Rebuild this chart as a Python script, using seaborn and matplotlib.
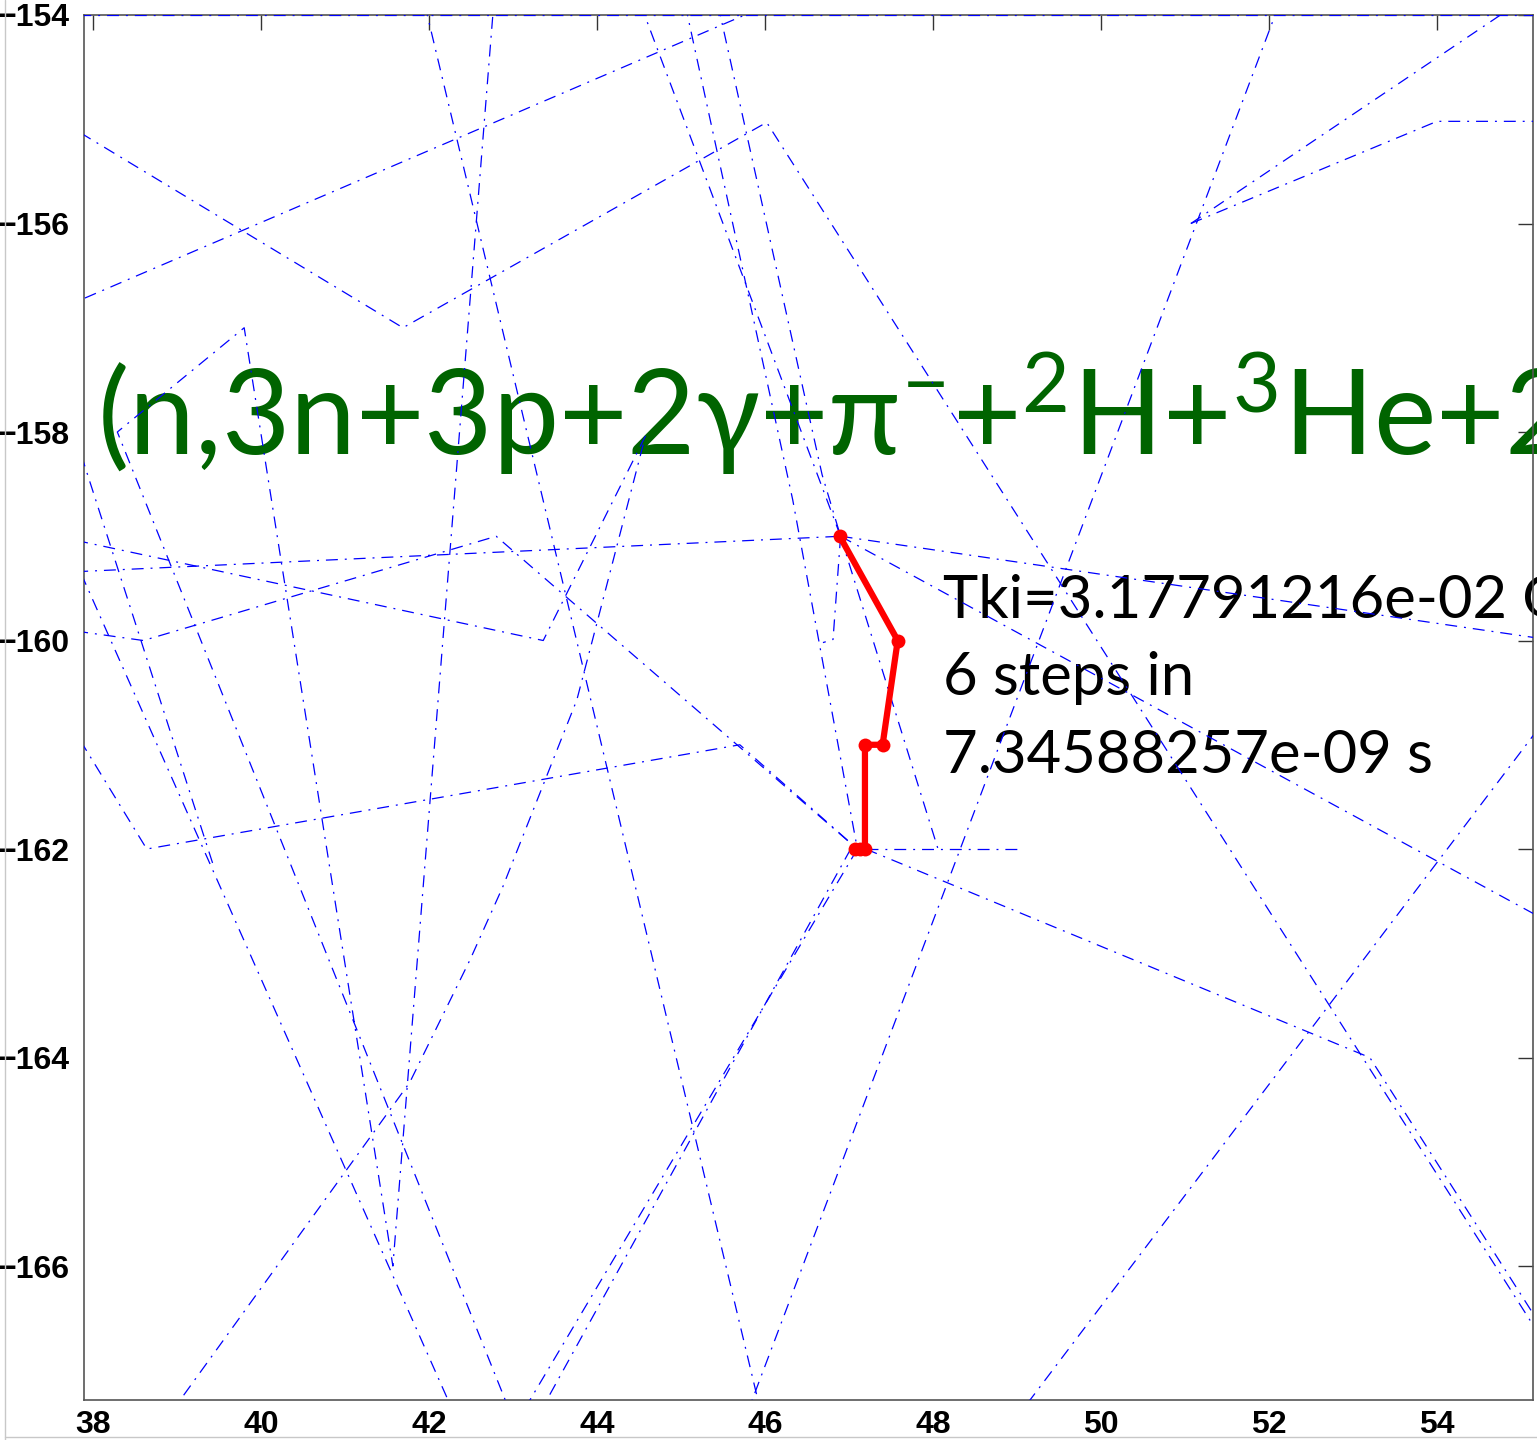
import matplotlib
matplotlib.use("Agg")
import matplotlib.pyplot as plt
from matplotlib.lines import Line2D
import pandas as pd
import seaborn as sns

# ---- particle tracks of the cascade (x, y vertices) ----
trk_edge = ([37.50, 55.60], [-154.00, -154.00])
trk_01 = ([37.60, 45.76], [-156.82, -154.00])
trk_02 = ([37.85, 41.69, 46.02, 55.40], [-155.13, -157.00, -155.03, -166.89])
trk_03 = ([41.95, 45.95], [-153.90, -167.40])
trk_04 = ([42.99, 38.29, 39.80, 41.57, 42.77], [-167.45, -158.00, -157.00, -166.00, -153.90])
trk_05 = ([37.86, 39.43], [-158.22, -162.15])
trk_06 = ([37.86, 42.29], [-159.36, -167.40])
trk_07 = ([37.80, 43.36, 44.60], [-159.04, -160.00, -158.00])
trk_08 = ([44.55, 44.00, 43.76, 42.88, 42.49, 41.77, 38.89],
          [-158.12, -159.83, -160.57, -162.36, -163.06, -164.24, -167.45])
trk_09 = ([37.80, 46.90], [-159.34, -159.00])
trk_10 = ([37.80, 38.60, 42.80, 47.10], [-159.91, -160.00, -159.00, -162.00])
trk_11 = ([37.85, 38.64, 45.70, 47.10], [-160.96, -162.00, -161.00, -162.00])
trk_12 = ([44.52, 46.90], [-153.90, -159.00])
trk_13 = ([45.44, 46.68, 46.90], [-153.90, -158.41, -159.00])
trk_14 = ([45.05, 46.33, 47.10], [-153.90, -158.65, -162.00])
trk_15 = ([46.90, 46.81, 46.69], [-159.00, -159.99, -160.02])
trk_16 = ([46.90, 48.06], [-159.00, -162.00])
trk_17 = ([47.20, 49.07], [-162.00, -162.00])
trk_18 = ([47.20, 53.20, 55.40], [-162.00, -164.00, -166.78])
trk_19 = ([47.10, 43.08], [-162.00, -167.45])
trk_20 = ([47.02, 43.29], [-162.00, -167.45])
trk_21 = ([52.12, 45.77], [-153.90, -167.45])
trk_22 = ([46.90, 55.40], [-159.00, -162.73])
trk_23 = ([55.40, 49.00], [-160.64, -167.45])
trk_24 = ([46.90, 55.40], [-159.00, -160.00])
trk_25 = ([51.07, 54.94], [-156.00, -153.90])
trk_26 = ([51.07, 54.00, 55.40], [-156.00, -155.02, -155.02])

# ---- primary neutron path (6 steps) ----
primary_x = [46.89, 47.58, 47.40, 47.19, 47.19, 47.13, 47.07]
primary_y = [-159.00, -160.00, -161.00, -161.00, -162.00, -162.00, -162.00]

# ---- axes ticks ----
x_ticks = [38, 40, 42, 44, 46, 48, 50, 52, 54]
y_ticks = [-154, -156, -158, -160, -162, -164, -166]

# ---- annotations ----
reaction_label = "(n,3n+3p+2γ+π$^{-}$+$^{2}$H+$^{3}$He+2"
info_lines = ["Tki=3.17791216e-02 G", "6 steps in", "7.34588257e-09 s"]

tracks = [trk_edge, trk_01, trk_02, trk_03, trk_04, trk_05, trk_06, trk_07,
          trk_08, trk_09, trk_10, trk_11, trk_12, trk_13, trk_14, trk_15,
          trk_16, trk_17, trk_18, trk_19, trk_20, trk_21, trk_22, trk_23,
          trk_24, trk_25, trk_26]

rows = []
for tid, (xs, ys) in enumerate(tracks):
    for k, (xv, yv) in enumerate(zip(xs, ys)):
        rows.append({"track": tid, "step": k, "x": xv, "y": yv})
track_df = pd.DataFrame(rows)

sns.set_style("white")
plt.rcParams["font.family"] = ["Liberation Sans", "DejaVu Sans"]
plt.rcParams["mathtext.fontset"] = "custom"
plt.rcParams["mathtext.rm"] = "Lato"
plt.rcParams["mathtext.it"] = "Lato:italic"
plt.rcParams["mathtext.bf"] = "Lato:bold"
plt.rcParams["lines.scale_dashes"] = False

fig = plt.figure(figsize=(15.37, 14.40), dpi=100)
ax = fig.add_axes([84 / 1537, 1 - 1400 / 1440, (1533 - 84) / 1537, (1400 - 15) / 1440])

sns.lineplot(data=track_df, x="x", y="y", units="track", estimator=None,
             sort=False, color="#0000ff", linewidth=0.9,
             linestyle=(0, (8.6, 5.0, 1.4, 5.0)), legend=False, ax=ax, zorder=3)

sns.lineplot(x=primary_x, y=primary_y, sort=False, estimator=None,
             color="#ff0000", linewidth=4.5, marker="o", markersize=10,
             markeredgewidth=0, ax=ax, zorder=5)

ax.text(38.05, -158.22, reaction_label, fontsize=85, color="#006400",
        family=["Lato", "DejaVu Sans"], ha="left", va="baseline",
        zorder=1, clip_on=False)

for line, yb in zip(info_lines, [-159.784, -160.523, -161.271]):
    ax.text(48.12, yb, line, fontsize=43, color="black",
            family=["Lato", "DejaVu Sans"], ha="left", va="baseline",
            zorder=1, clip_on=False)

ax.set_xlim(37.893, 55.143)
ax.set_ylim(-167.285, -154.0)
ax.set_xticks(x_ticks)
ax.set_yticks(y_ticks)
ax.set_xlabel("")
ax.set_ylabel("")
ax.tick_params(direction="in", length=10.5, width=1.0, color="#333333",
               top=True, right=True, labelsize=23, labelcolor="black")
ax.tick_params(axis="x", pad=7)
ax.tick_params(axis="y", pad=10)
for lab in ax.get_xticklabels() + ax.get_yticklabels():
    lab.set_fontweight("bold")
for sp in ax.spines.values():
    sp.set_color("#555555")
    sp.set_linewidth(1.2)
    sp.set_visible(True)

# thin light frame around the figure
fig.add_artist(Line2D([5 / 1537, 5 / 1537], [0, 1], color="#c8c8c8", linewidth=1.0))
fig.add_artist(Line2D([5 / 1537, 1], [3 / 1440, 3 / 1440], color="#c8c8c8", linewidth=1.0))

fig.savefig("out.png", dpi=100)
